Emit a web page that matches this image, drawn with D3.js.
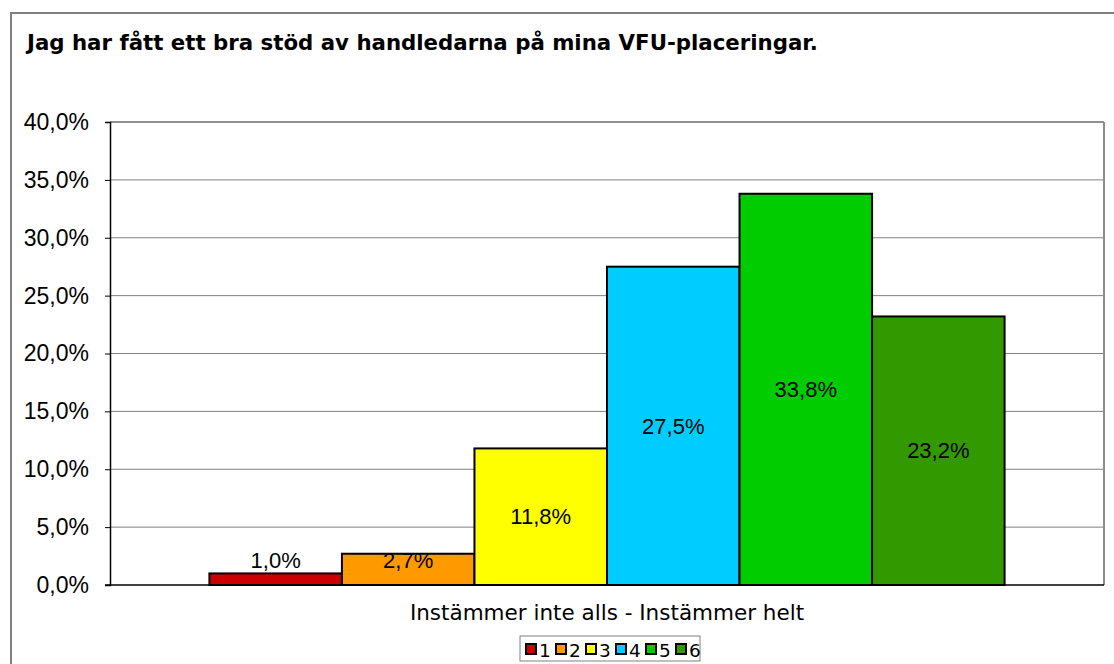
<!DOCTYPE html>
<html>
<head>
<meta charset="utf-8">
<script src="https://cdn.jsdelivr.net/npm/d3@7"></script>
<style>
  body { margin: 0; background: #fff; }
</style>
</head>
<body>
<svg id="chart" width="1114" height="664"></svg>
<script>
// data
const categories = ["1", "2", "3", "4", "5", "6"];
const values = [1.0, 2.7, 11.8, 27.5, 33.8, 23.2];
const colors = ["#cc0000", "#ff9900", "#ffff00", "#00ccff", "#00cc00", "#339900"];
const yTicks = [0, 5, 10, 15, 20, 25, 30, 35, 40];
const title = "Jag har fått ett bra stöd av handledarna på mina VFU-placeringar.";
const xTitle = "Instämmer inte alls - Instämmer helt";

const svg = d3.select("#chart");
const fmt = v => v.toFixed(1).replace(".", ",") + "%";
const sans = "'Liberation Sans', Arial, sans-serif";
const verdana = "'DejaVu Sans', Verdana, sans-serif";

// outer frame (cut off at right / bottom like the original)
svg.append("rect")
  .attr("x", 11).attr("y", 13).attr("width", 1120).attr("height", 700)
  .attr("fill", "#fff").attr("stroke", "#808080").attr("stroke-width", 2);

svg.append("text")
  .attr("x", 27).attr("y", 50)
  .attr("font-family", verdana)
  .attr("font-weight", "bold").attr("font-size", 21.3)
  .text(title);

const plot = { left: 110, right: 1104, top: 122, bottom: 585 };

const y = d3.scaleLinear().domain([0, 40]).range([plot.bottom, plot.top]);
// group spans the whole plot, gap width 150%
const x = d3.scaleBand().domain(categories)
  .range([plot.left, plot.right]).paddingOuter(0.75).paddingInner(0);

// gridlines
svg.append("g").selectAll("line")
  .data(yTicks.filter(d => d > 0))
  .join("line")
  .attr("x1", plot.left).attr("x2", plot.right)
  .attr("y1", d => y(d)).attr("y2", d => y(d))
  .attr("stroke", "#808080").attr("stroke-width", 1);

// plot frame: top/right grey
svg.append("line").attr("x1", plot.left).attr("x2", plot.right)
  .attr("y1", plot.top).attr("y2", plot.top).attr("stroke", "#808080").attr("stroke-width", 1.5);
svg.append("line").attr("x1", plot.right).attr("x2", plot.right)
  .attr("y1", plot.top).attr("y2", plot.bottom).attr("stroke", "#8c8c8c").attr("stroke-width", 2);

// bars
svg.append("g").selectAll("rect")
  .data(values)
  .join("rect")
  .attr("x", (d, i) => x(categories[i]))
  .attr("y", d => y(d))
  .attr("width", x.bandwidth())
  .attr("height", d => y(0) - y(d))
  .attr("fill", (d, i) => colors[i])
  .attr("stroke", "#000").attr("stroke-width", 2);

// axes
const yAxis = d3.axisLeft(y).tickValues(yTicks).tickFormat(fmt).tickSize(5);
const gy = svg.append("g").attr("transform", `translate(${plot.left},0)`).call(yAxis);
gy.select(".domain").attr("stroke", "#000").attr("stroke-width", 1.5);
gy.selectAll(".tick line").attr("stroke", "#000");
gy.selectAll(".tick text")
  .attr("x", -21)
  .attr("font-family", sans).attr("font-size", 23).attr("fill", "#000");

svg.append("line").attr("x1", plot.left - 5).attr("x2", plot.right)
  .attr("y1", plot.bottom).attr("y2", plot.bottom).attr("stroke", "#000").attr("stroke-width", 1.5);

// value labels
svg.append("g").selectAll("text")
  .data(values)
  .join("text")
  .attr("x", (d, i) => x(categories[i]) + x.bandwidth() / 2)
  .attr("y", d => Math.min((y(d) + y(0)) / 2, y(0) - 25))
  .attr("dy", "0.35em")
  .attr("text-anchor", "middle")
  .attr("font-family", sans).attr("font-size", 22)
  .text(fmt);

svg.append("text")
  .attr("x", (plot.left + plot.right) / 2).attr("y", 620)
  .attr("text-anchor", "middle")
  .attr("font-family", verdana).attr("font-size", 21.5)
  .text(xTitle);

// legend
const lg = svg.append("g").attr("transform", "translate(520,636)");
lg.append("rect").attr("x", 0).attr("y", 0).attr("width", 180).attr("height", 25)
  .attr("fill", "#fff").attr("stroke", "#808080").attr("stroke-width", 1);
const item = lg.selectAll("g").data(categories).join("g")
  .attr("transform", (d, i) => `translate(${6 + i * 30},0)`);
item.append("rect").attr("x", 0).attr("y", 8).attr("width", 10).attr("height", 10)
  .attr("fill", (d, i) => colors[i]).attr("stroke", "#000").attr("stroke-width", 2);
item.append("text").attr("x", 13).attr("y", 21)
  .attr("font-family", verdana).attr("font-size", 18.5)
  .text(d => d);
</script>
</body>
</html>
